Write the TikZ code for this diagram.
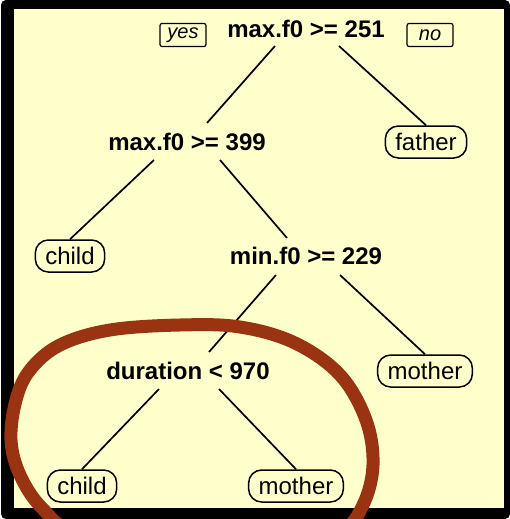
\documentclass[tikz,border=0pt]{standalone}
\usepackage{fontspec}
\setmainfont{Liberation Sans}
\usetikzlibrary{calc,positioning}
\definecolor{paper}{RGB}{255,255,204}
\definecolor{rust}{RGB}{153,51,17}
\tikzstyle{split}=[font=\fontsize{24}{28}\selectfont\bfseries,
		text height=17pt, text depth=0pt, inner sep=1pt]
\tikzstyle{leaf}=[draw, line width=1.5pt, rounded corners=13pt, fill=paper,
		font=\fontsize{24}{28}\selectfont, text height=17pt, text depth=0pt,
		inner xsep=10pt, minimum height=32pt]
\tikzstyle{tag}=[draw, line width=1.2pt, rounded corners=2pt,
		font=\fontsize{20}{24}\selectfont\itshape, minimum height=23pt,
		minimum width=46pt]
\tikzstyle{branch}=[-, line width=1.7pt]
\tikzstyle{ring}=[draw=rust, line width=13pt]

\begin{document}
\begin{tikzpicture}[x=1pt,y=-1pt]
    \useasboundingbox (0,0) rectangle (510,519);

    % frame
    \fill[black, rounded corners=5pt] (1,0) rectangle (510,519);
    \fill[paper] (14,9) rectangle (504,508);

    \node (root) [split] at (306,29) {max.f0 >= 251};
    \node (yes) [tag] at (183,35) {yes};
    \node (no) [tag] at (430,35) {no};

    \node (f0a) [split] at (187,142) {max.f0 >= 399};
    \node (father) [leaf] at (426,142) {father};

    \node (childA) [leaf] at (70,256) {child};
    \node (f0b) [split] at (306,256) {min.f0 >= 229};

    \node (dur) [split] at (188,371) {duration < 970};
    \node (motherA) [leaf] at (425,371) {mother};

    \node (childB) [leaf] at (82,486) {child};
    \node (motherB) [leaf] at (296,486) {mother};

    % branches
    \draw[branch] ($(root)+(-31,17)$) -- ($(f0a)+(20,-19)$);
    \draw[branch] ($(root)+(33,17)$) -- (father.north);
    \draw[branch] ($(f0a)+(-33,18)$) -- (childA.north);
    \draw[branch] ($(f0a)+(33,18)$) -- ($(f0b)+(-19,-18)$);
    \draw[branch] ($(f0b)+(-30,19)$) -- ($(dur)+(21,-19)$);
    \draw[branch] ($(f0b)+(34,19)$) -- (motherA.north);
    \draw[branch] ($(dur)+(-29,18)$) -- (childB.north);
    \draw[branch] ($(dur)+(31,18)$) -- (motherB.north);

    % hand-drawn ring round the last split
    \begin{scope}
      \clip (0,0) rectangle (510,519);
      \draw[ring] plot[smooth cycle, tension=0.6] coordinates {
        (11,440) (16,400) (30,370) (60,345) (110,330) (180,325) (240,327)
        (295,343) (340,375) (366,420) (373,465) (363,505) (340,532)
        (280,548) (180,548) (80,535) (42,508) (20,475)};
    \end{scope}
\end{tikzpicture}
\end{document}
